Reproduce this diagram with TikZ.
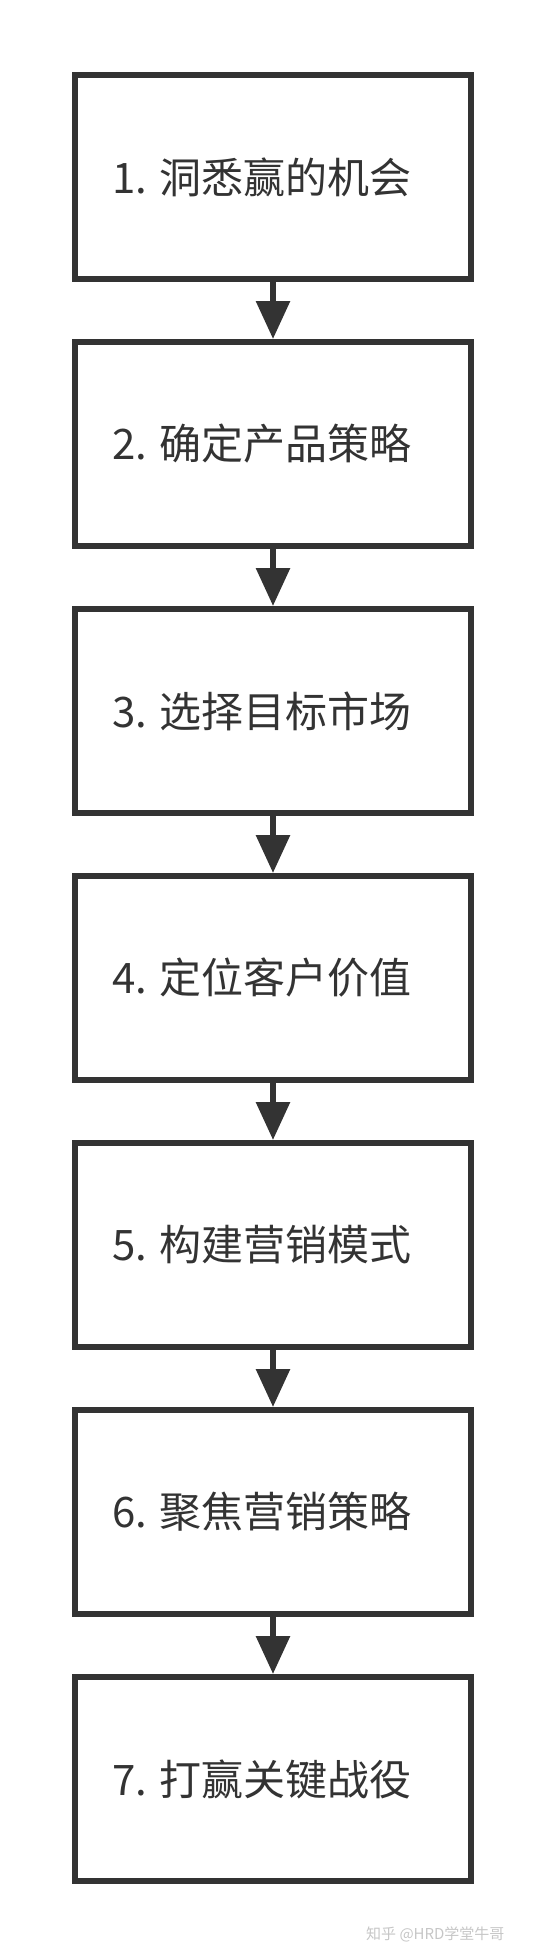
\documentclass[tikz,border=0pt]{standalone}
\usepackage{fontspec}
\setmainfont{Noto Sans CJK SC}
\usetikzlibrary{positioning,arrows.meta}
\definecolor{inkgray}{HTML}{333333}

\begin{document}
\begin{tikzpicture}[
  node distance=57pt,
  stepbox/.style={rectangle, draw=inkgray, line width=6pt, minimum width=396pt, minimum height=204pt, font=\fontsize{42}{50}\selectfont, text=inkgray, execute at end node={\hspace{22pt}}},
  flow/.style={-{Triangle[length=38pt,width=33pt]}, line width=6pt, draw=inkgray}
]
\useasboundingbox (0,0) rectangle (546pt,-1956pt);

% Steps
\node[stepbox] (s1) at (273pt,-177pt) {1. 洞悉赢的机会};
\node[stepbox, below=of s1] (s2) {2. 确定产品策略};
\node[stepbox, below=of s2] (s3) {3. 选择目标市场};
\node[stepbox, below=of s3] (s4) {4. 定位客户价值};
\node[stepbox, below=of s4] (s5) {5. 构建营销模式};
\node[stepbox, below=of s5] (s6) {6. 聚焦营销策略};
\node[stepbox, below=of s6] (s7) {7. 打赢关键战役};

% Arrows
\foreach \a/\b in {s1/s2, s2/s3, s3/s4, s4/s5, s5/s6, s6/s7}
  \draw[flow] (\a.south) -- (\b.north);

% Watermark
\node[anchor=east, font=\fontsize{15}{18}\selectfont, text=gray!45] (mark) at (508pt,-1934pt) {知乎 @HRD学堂牛哥};
\end{tikzpicture}
\end{document}
